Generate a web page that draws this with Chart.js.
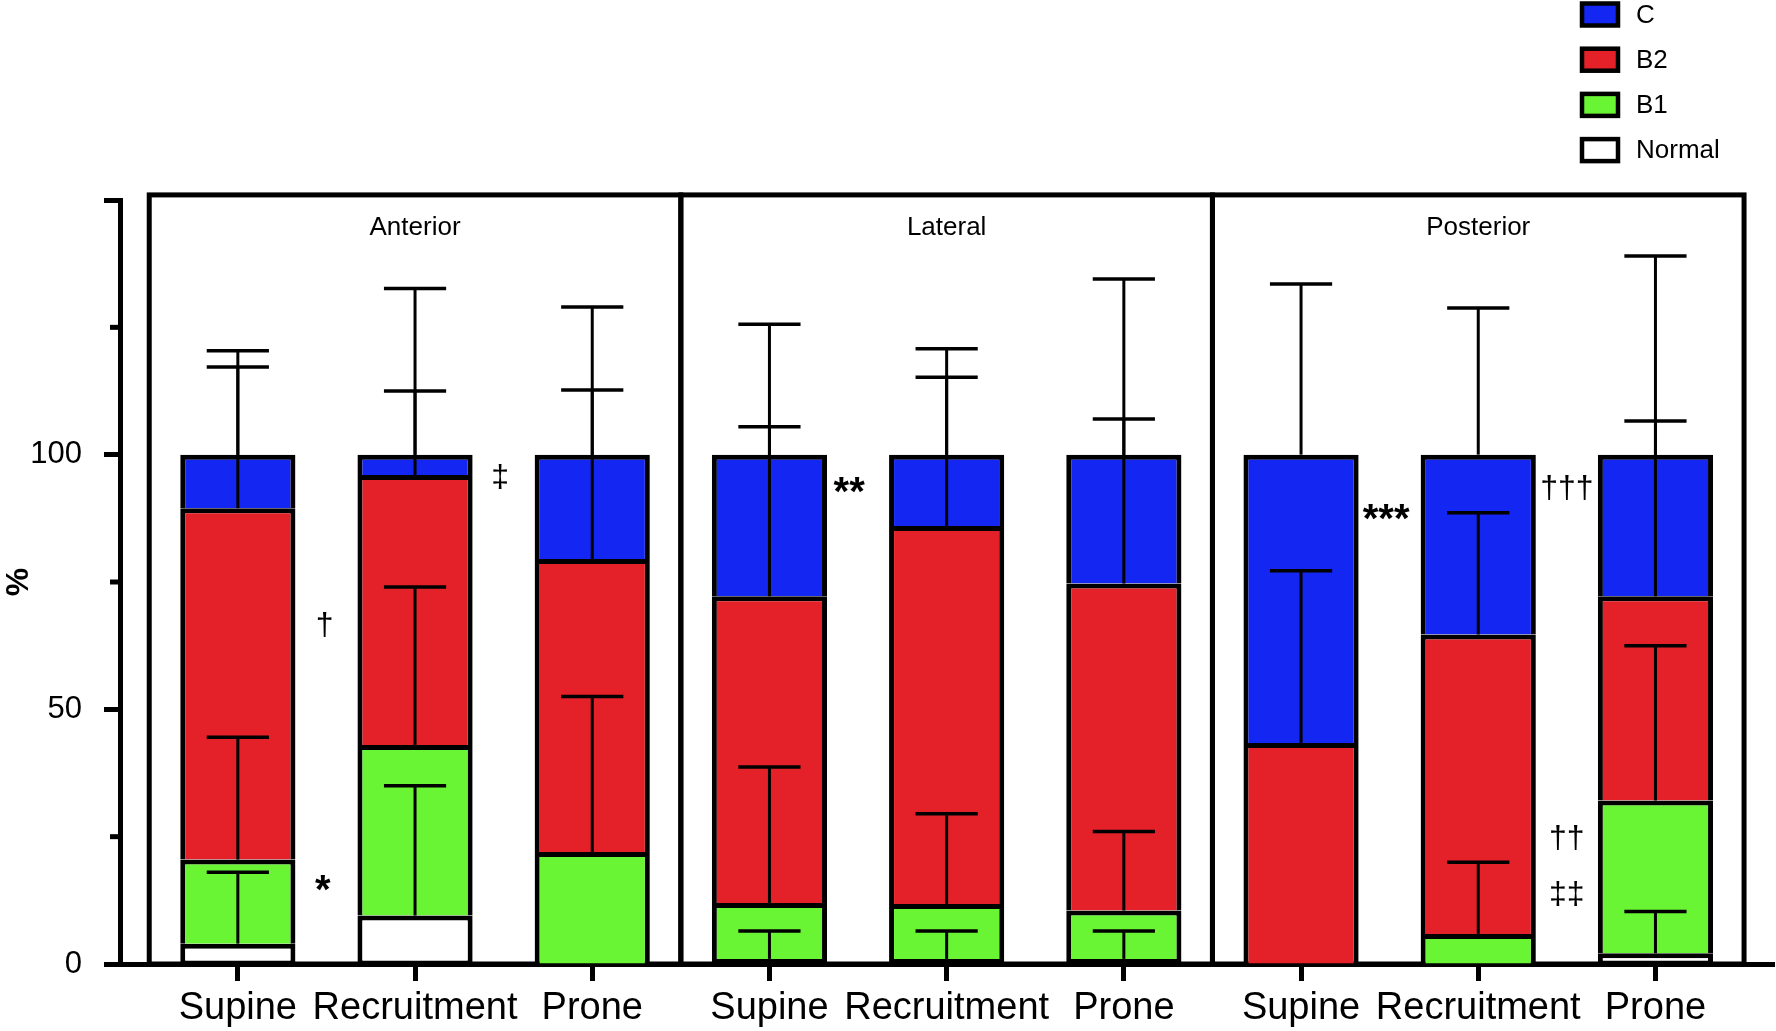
<!DOCTYPE html>
<html>
<head>
<meta charset="utf-8">
<script src="https://cdn.jsdelivr.net/npm/chart.js@4.4.0/dist/chart.umd.min.js"></script>
<style>
    html, body { margin: 0; padding: 0; background: #fff; }
</style>
</head>
<body>
<canvas id="myChart" width="1776" height="1031"></canvas>
<script>
"use strict";

const positions = ['Supine', 'Recruitment', 'Prone', 'Supine', 'Recruitment', 'Prone', 'Supine', 'Recruitment', 'Prone'];
const regions = ['Anterior', 'Lateral', 'Posterior'];

// mean % for each bar: anterior x3, lateral x3, posterior x3
const normalVals = [4, 9.5, 0, 1, 1, 1, 0, 0, 2.1];
const b1Vals = [16.5, 33.5, 22, 11, 10.8, 9.5, 0, 5.9, 30];
const b2Vals = [69, 53, 57.5, 60.2, 74.2, 64.2, 43.4, 58.8, 40.1];
const cVals = [10.5, 4, 20.5, 27.8, 14, 25.3, 56.6, 35.3, 27.8];

// SD, drawn upward from the top of each segment
const normalSd = [14, 25.5, 0, 5.5, 5.5, 5.5, 0, 0, 8.2];
const b1Sd = [24, 31, 30.5, 26.7, 17.7, 15.5, 0, 14.1, 30.4];
const b2Sd = [27.7, 16.5, 33.2, 33.3, 29.2, 32.3, 33.8, 23.9, 34.4];
const cSd = [20.4, 32.6, 29, 25.6, 20.8, 34.5, 33.5, 28.8, 39];

const yTicks = [0, 50, 100, 150];
const yMinorTicks = [25, 75, 125];

// significance marks (x = bar index, y = %)
const markText = ['\u2020', '*', '\u2021', '**', '***', '\u2020\u2020\u2020', '\u2020\u2020', '\u2021\u2021'];
const markX = [0.49, 0.48, 1.48, 3.45, 6.48, 7.5, 7.5, 7.5];
const markY = [66.3, 14.2, 95.4, 92.2, 87.0, 93.2, 24.5, 13.5];

const FONT = '"Liberation Sans", Arial, Helvetica, sans-serif';
Chart.defaults.font.family = FONT;
Chart.defaults.color = '#000';

const sds = [normalSd, b1Sd, b2Sd, cSd];

const extras = {
    id: 'extras',
    beforeDatasetsDraw(chart) {
        const { ctx, scales: { x, y } } = chart;
        ctx.save();
        ctx.strokeStyle = '#000';
        ctx.lineWidth = 5;
        regions.forEach((name, g) => {
            const left = x.getPixelForValue(g * 3 - 0.5);
            const right = x.getPixelForValue(g * 3 + 2.5);
            const top = y.getPixelForValue(151);
            const bottom = y.getPixelForValue(0);
            ctx.strokeRect(left, top, right - left, bottom - top);
            ctx.fillStyle = '#000';
            ctx.font = '26px ' + FONT;
            ctx.textAlign = 'center';
            ctx.textBaseline = 'middle';
            ctx.fillText(name, (left + right) / 2, y.getPixelForValue(144.5));
        });
        ctx.restore();
    },
    afterDatasetsDraw(chart) {
        const { ctx, scales: { y } } = chart;
        const sets = chart.data.datasets;
        ctx.save();
        ctx.strokeStyle = '#000';
        sets.forEach((ds, d) => {
            const meta = chart.getDatasetMeta(d);
            meta.data.forEach((bar, i) => {
                const sd = sds[d][i];
                if (!sd) return;
                let top = 0;
                for (let k = 0; k <= d; k++) top += sets[k].data[i];
                const y0 = y.getPixelForValue(top);
                const y1 = y.getPixelForValue(top + sd);
                const half = bar.width * 0.27;
                ctx.lineWidth = 3;
                ctx.beginPath();
                ctx.moveTo(bar.x, y0);
                ctx.lineTo(bar.x, y1);
                ctx.stroke();
                ctx.lineWidth = 3.5;
                ctx.beginPath();
                ctx.moveTo(bar.x - half, y1);
                ctx.lineTo(bar.x + half, y1);
                ctx.stroke();
            });
        });
        ctx.restore();
    },
    afterDraw(chart) {
        const { ctx, scales: { x, y } } = chart;
        ctx.save();
        // minor y ticks
        ctx.strokeStyle = '#000';
        ctx.lineWidth = 5;
        yMinorTicks.forEach(v => {
            const py = y.getPixelForValue(v);
            ctx.beginPath();
            ctx.moveTo(y.right - 10, py);
            ctx.lineTo(y.right, py);
            ctx.stroke();
        });

        // marks
        ctx.fillStyle = '#000';
        ctx.textAlign = 'center';
        ctx.textBaseline = 'middle';
        markText.forEach((t, i) => {
            ctx.font = t.indexOf('*') >= 0 ? 'bold 40px ' + FONT : '32px ' + FONT;
            ctx.fillText(t, x.getPixelForValue(markX[i]), y.getPixelForValue(markY[i]));
        });

        // legend, top right, C first
        const sets = chart.data.datasets;
        ctx.font = '26px ' + FONT;
        ctx.textAlign = 'left';
        for (let k = 0; k < sets.length; k++) {
            const ds = sets[sets.length - 1 - k];
            const cy = 14.5 + k * 45.2;
            ctx.fillStyle = ds.backgroundColor;
            ctx.fillRect(1582, cy - 11, 36, 22);
            ctx.lineWidth = 4.5;
            ctx.strokeRect(1582, cy - 11, 36, 22);
            ctx.fillStyle = '#000';
            ctx.fillText(ds.label, 1636, cy + 1);
        }
        ctx.restore();
    }
};

const ctx = document.getElementById('myChart').getContext('2d');
new Chart(ctx, {
    type: 'bar',
    data: {
        labels: positions.map((p, i) => i),
        datasets: [
            { label: 'Normal', data: normalVals, backgroundColor: '#ffffff', borderSkipped: false,
              borderWidth: { top: 5, left: 5, right: 5, bottom: 3 } },
            { label: 'B1', data: b1Vals, backgroundColor: '#69f533' },
            { label: 'B2', data: b2Vals, backgroundColor: '#e42128' },
            { label: 'C', data: cVals, backgroundColor: '#1326f2' }
        ]
    },
    options: {
        responsive: false,
        animation: false,
        layout: { padding: { top: 200, right: 2, left: 0, bottom: 0 } },
        plugins: {
            legend: { display: false },
            tooltip: { enabled: false }
        },
        datasets: {
            bar: {
                borderColor: '#000',
                borderWidth: 5,
                borderSkipped: 'start',
                barPercentage: 0.65,
                categoryPercentage: 1
            }
        },
        scales: {
            x: {
                type: 'linear',
                stacked: true,
                min: -0.665,
                max: 8.669,
                offset: false,
                afterBuildTicks: (axis) => { axis.ticks = positions.map((p, i) => ({ value: i })); },
                afterFit: (axis) => { axis.height = 67; },
                grid: { drawOnChartArea: false, offset: false, tickLength: 17, tickWidth: 5, tickColor: '#000' },
                border: { color: '#000', width: 5 },
                ticks: {
                    callback: (v) => positions[v],
                    color: '#000',
                    font: { size: 38 },
                    padding: 5,
                    maxRotation: 0,
                    autoSkip: false
                }
            },
            y: {
                stacked: true,
                min: 0,
                max: 150,
                afterFit: (axis) => { axis.width = 120; },
                afterBuildTicks: (axis) => { axis.ticks = yTicks.map(v => ({ value: v })); },
                grid: { drawOnChartArea: false, tickLength: 16, tickWidth: 5, tickColor: '#000' },
                border: { color: '#000', width: 5 },
                ticks: {
                    callback: (v) => (v === 150 ? '' : v),
                    color: '#000',
                    font: { size: 31 },
                    padding: 22
                },
                title: { display: true, text: '%', color: '#000', font: { size: 32, weight: 'bold' }, padding: 0 }
            }
        }
    },
    plugins: [extras]
});
</script>
</body>
</html>
